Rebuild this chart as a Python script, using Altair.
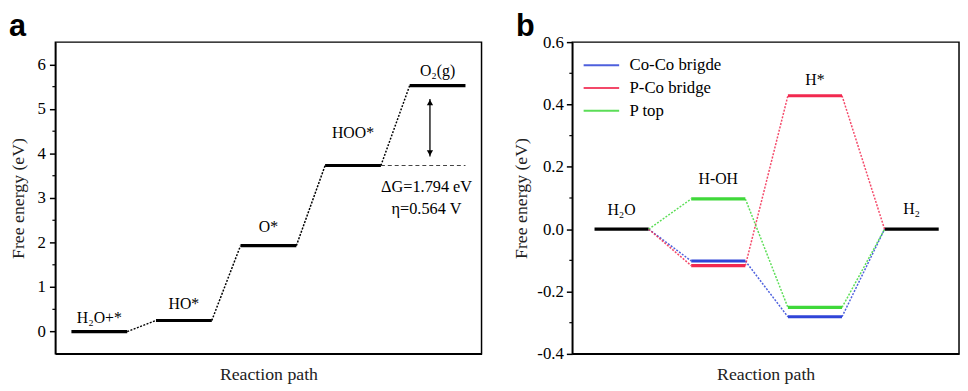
import altair as alt
import pandas as pd

# ---------------- data: panel a (OER) ----------------
steps_a = ["H\u2082O+*", "HO*", "O*", "HOO*", "O\u2082(g)"]
energy_a = [0.0, 0.25, 1.93, 3.73, 5.524]
label_y_a = [0.30, 0.62, 2.35, 4.46, 5.86]
ticks_a = [0, 1, 2, 3, 4, 5, 6]
minor_a = [0.5, 1.5, 2.5, 3.5, 4.5, 5.5]
notes_a = ["\u0394G=1.794 eV", "\u03b7=0.564 V"]
notes_y_a = [3.24, 2.75]

# ---------------- data: panel b (HER) ----------------
steps_b = ["H\u2082O", "H-OH", "H*", "H\u2082"]
label_y_b = [0.062, 0.16, 0.477, 0.065]
series_b = ["Co-Co brigde", "P-Co bridge", "P top"]
coco = [0.0, -0.102, -0.281, 0.0]
pco = [0.0, -0.117, 0.428, 0.0]
ptop = [0.0, 0.097, -0.251, 0.0]
colors_b = ["#2f45d8", "#f2294f", "#3fd83a"]
ticks_b = [-0.4, -0.2, 0.0, 0.2, 0.4, 0.6]
minor_b = [-0.3, -0.1, 0.1, 0.3, 0.5]

SERIF = "Liberation Serif"
HW_A = 0.33
HW_B = 0.28

# ---------- build tables a ----------
pos_a = [i + 1 for i in range(len(steps_a))]
lev_a = pd.DataFrame({"x1": [p - HW_A for p in pos_a], "x2": [p + HW_A for p in pos_a], "y": energy_a})
con_a = pd.DataFrame({
    "x1": [pos_a[i] + HW_A for i in range(len(pos_a) - 1)],
    "x2": [pos_a[i + 1] - HW_A for i in range(len(pos_a) - 1)],
    "y1": energy_a[:-1],
    "y2": energy_a[1:],
})
lab_a = pd.DataFrame({"x": pos_a, "y": label_y_a, "t": steps_a})
dash_a = pd.DataFrame({"x1": [pos_a[3] + HW_A], "x2": [pos_a[4] + HW_A], "y": [energy_a[3]]})
arrow_x = pos_a[4] - 0.09
arr_a = pd.DataFrame({"x": [arrow_x], "y1": [energy_a[3] + 0.2], "y2": [energy_a[4] - 0.3]})
head_up = pd.DataFrame({"x": [arrow_x], "y": [energy_a[4] - 0.38]})
head_dn = pd.DataFrame({"x": [arrow_x], "y": [energy_a[3] + 0.28]})
note_a = pd.DataFrame({"x": [pos_a[4] - 0.13] * 2, "y": notes_y_a, "t": notes_a})
minor_a_df = pd.DataFrame({"v": minor_a})
letter_a = pd.DataFrame({"t": ["a"]})

XA = alt.Scale(domain=[0.48, 5.52])
YA = alt.Scale(domain=[-0.5, 6.5])

axis_y_a = alt.Axis(values=ticks_a, format="d", tickSize=6, tickWidth=1.5, tickColor="black",
                    domainColor="black", domainWidth=1.5, labelFont=SERIF, labelFontSize=17,
                    labelColor="black", labelPadding=4, title="Free energy (eV)", titleFont=SERIF,
                    titleFontSize=18, titleFontWeight="normal", titleColor="#222", titlePadding=10,
                    grid=False)
axis_x = alt.Axis(labels=False, ticks=False, domain=True, domainColor="black", domainWidth=1.5,
                  grid=False, title="Reaction path", titleFont=SERIF, titleFontSize=18,
                  titleFontWeight="normal", titleColor="#222", titlePadding=12)


def xa(f):
    return alt.X(f, type="quantitative", scale=XA, axis=axis_x)


def ya(f):
    return alt.Y(f, type="quantitative", scale=YA, axis=axis_y_a)


levels_a = alt.Chart(lev_a).mark_rule(color="black", strokeWidth=3.2).encode(
    x=xa("x1"), x2="x2", y=ya("y"))
conn_a = alt.Chart(con_a).mark_rule(color="black", strokeWidth=1.5, strokeDash=[2, 1.5]).encode(
    x=xa("x1"), x2="x2", y=ya("y1"), y2="y2")
text_a = alt.Chart(lab_a).mark_text(font=SERIF, fontSize=16, color="black").encode(
    x=xa("x"), y=ya("y"), text="t:N")
dashline_a = alt.Chart(dash_a).mark_rule(color="#444", strokeWidth=1.2, strokeDash=[4, 3]).encode(
    x=xa("x1"), x2="x2", y=ya("y"))
shaft_a = alt.Chart(arr_a).mark_rule(color="black", strokeWidth=1.3).encode(
    x=xa("x"), y=ya("y1"), y2="y2")
up_a = alt.Chart(head_up).mark_point(shape="triangle-up", filled=True, color="black", size=40, opacity=1).encode(
    x=xa("x"), y=ya("y"))
dn_a = alt.Chart(head_dn).mark_point(shape="triangle-down", filled=True, color="black", size=40, opacity=1).encode(
    x=xa("x"), y=ya("y"))
notes_txt_a = alt.Chart(note_a).mark_text(font=SERIF, fontSize=16.5, color="black").encode(
    x=xa("x"), y=ya("y"), text="t:N")
minor_ticks_a = alt.Chart(minor_a_df).mark_rule(color="black", strokeWidth=1.2).encode(
    y=ya("v"), x=alt.value(-3), x2=alt.value(0))
letter_txt_a = alt.Chart(letter_a).mark_text(font="Liberation Sans", fontWeight="bold", fontSize=31,
                                             align="left", baseline="alphabetic", color="black").encode(
    x=alt.value(-47), y=alt.value(-6), text="t:N")

panel_a = alt.layer(levels_a, conn_a, dashline_a, shaft_a, up_a, dn_a, text_a, notes_txt_a,
                    minor_ticks_a, letter_txt_a).properties(width=432, height=316)

# ---------- build tables b ----------
pos_b = [i + 1 for i in range(len(steps_b))]
vals_b = {series_b[0]: coco, series_b[1]: pco, series_b[2]: ptop}
rows_lev, rows_con = [], []
for s in series_b:
    v = vals_b[s]
    for i in (1, 2):
        rows_lev.append({"s": s, "x1": pos_b[i] - HW_B, "x2": pos_b[i] + HW_B, "y": v[i]})
    for i in range(len(pos_b) - 1):
        rows_con.append({"s": s, "x1": pos_b[i] + HW_B, "x2": pos_b[i + 1] - HW_B, "y1": v[i], "y2": v[i + 1]})
lev_b = pd.DataFrame(rows_lev)
con_b = pd.DataFrame(rows_con)
end_b = pd.DataFrame({"x1": [pos_b[0] - HW_B, pos_b[3] - HW_B], "x2": [pos_b[0] + HW_B, pos_b[3] + HW_B],
                      "y": [coco[0], coco[3]]})
lab_b = pd.DataFrame({"x": pos_b, "y": label_y_b, "t": steps_b})
minor_b_df = pd.DataFrame({"v": minor_b})
letter_b = pd.DataFrame({"t": ["b"]})

XB = alt.Scale(domain=[0.49, 4.49])
YB = alt.Scale(domain=[-0.4, 0.6])
CB = alt.Scale(domain=series_b, range=colors_b)

axis_y_b = alt.Axis(values=ticks_b, tickSize=6, tickWidth=1.5, tickColor="black",
                    labelExpr="datum.value < 0 ? '-' + format(-datum.value, '.1f') : format(datum.value, '.1f')",
                    domainColor="black", domainWidth=1.5, labelFont=SERIF, labelFontSize=17,
                    labelColor="black", labelPadding=3, title="Free energy (eV)", titleFont=SERIF,
                    titleFontSize=18, titleFontWeight="normal", titleColor="#222", titlePadding=6,
                    grid=False)
legend_b = alt.Legend(title=None, orient="none", legendX=21, legendY=15, symbolType="M-3,0H3",
                      symbolSize=144, symbolStrokeWidth=2, symbolDash=[1, 0], labelFont=SERIF,
                      labelFontSize=17, labelColor="black", labelOffset=20, rowPadding=5, padding=0)


def xb(f):
    return alt.X(f, type="quantitative", scale=XB, axis=axis_x)


def yb(f):
    return alt.Y(f, type="quantitative", scale=YB, axis=axis_y_b)


endlev_b = alt.Chart(end_b).mark_rule(color="black", strokeWidth=3.2).encode(
    x=xb("x1"), x2="x2", y=yb("y"))
levels_b = alt.Chart(lev_b).mark_rule(strokeWidth=3.2).encode(
    x=xb("x1"), x2="x2", y=yb("y"), color=alt.Color("s:N", scale=CB, legend=legend_b))
conn_b = alt.Chart(con_b).mark_rule(strokeWidth=1.5, strokeDash=[2, 1.5], opacity=0.85).encode(
    x=xb("x1"), x2="x2", y=yb("y1"), y2="y2", color=alt.Color("s:N", scale=CB, legend=legend_b))
text_b = alt.Chart(lab_b).mark_text(font=SERIF, fontSize=16, color="black").encode(
    x=xb("x"), y=yb("y"), text="t:N")
minor_ticks_b = alt.Chart(minor_b_df).mark_rule(color="black", strokeWidth=1.2).encode(
    y=yb("v"), x=alt.value(-3), x2=alt.value(0))
letter_txt_b = alt.Chart(letter_b).mark_text(font="Liberation Sans", fontWeight="bold", fontSize=31,
                                             align="left", baseline="alphabetic", color="black").encode(
    x=alt.value(-57), y=alt.value(-6), text="t:N")

panel_b = alt.layer(endlev_b, levels_b, conn_b, text_b, minor_ticks_b, letter_txt_b).properties(
    width=392, height=316)

chart = alt.hconcat(panel_a, panel_b, spacing=30).resolve_scale(color="independent").resolve_legend(
    color="independent").properties(padding=0).configure(
    background="white").configure_view(stroke="black", strokeWidth=1.5)

chart.save("out.html", embed_options={"renderer": "svg", "actions": False})
